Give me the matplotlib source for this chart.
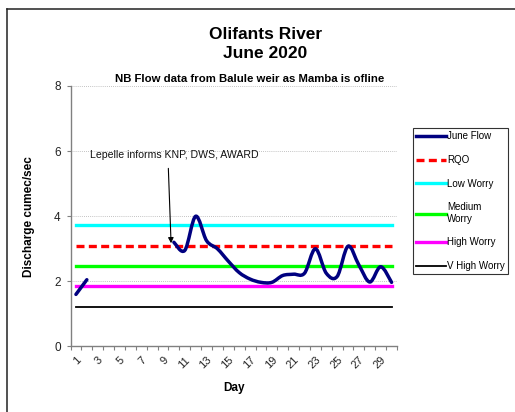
import numpy as np
import matplotlib
matplotlib.use("Agg")
import matplotlib.pyplot as plt
from matplotlib.path import Path
from matplotlib.patches import PathPatch
from matplotlib.lines import Line2D

plt.rcParams['font.family'] = ['Liberation Sans', 'DejaVu Sans']

# ---------------- data ----------------
days = list(range(1, 31))
june_flow = [1.6, 2.05, np.nan, np.nan, np.nan, np.nan, np.nan, np.nan, np.nan,
             3.2, 2.95, 4.0, 3.25, 3.0, 2.62, 2.27, 2.07, 1.97, 1.97, 2.18,
             2.22, 2.25, 3.0, 2.25, 2.15, 3.08, 2.5, 1.98, 2.45, 1.97]
rqo = 3.1
low_worry = 3.73
medium_worry = 2.47
high_worry = 1.85
v_high_worry = 1.22
x_tick_labels = [str(d) for d in days[::2]]
y_ticks = [0, 2, 4, 6, 8]
annotation_text = "Lepelle informs KNP, DWS, AWARD"

# ---------------- figure ----------------
fig = plt.figure(figsize=(5.15, 4.12), dpi=100)
ax = fig.add_axes([0.1369, 0.159, 0.634, 0.6323])

# outer chart frame (left & top edges visible)
fig.add_artist(Line2D([7/515, 7/515], [0, 1 - 9/412], transform=fig.transFigure,
                      color='#222222', lw=1.1))
fig.add_artist(Line2D([7/515, 1], [1 - 9/412, 1 - 9/412], transform=fig.transFigure,
                      color='#222222', lw=1.1))

# gridlines
for yv in y_ticks[1:]:
    ax.axhline(yv, color='#b0b0b0', lw=0.6, ls=(0, (1, 1.5)), zorder=0)

# threshold lines
x0, x1 = days[0], days[-1]
ax.plot([x0, x1], [v_high_worry, v_high_worry], color='black', lw=1.3, zorder=2)
ax.plot([x0, x1], [high_worry, high_worry], color='#FF00FF', lw=2.4, zorder=2)
ax.plot([x0, x1], [medium_worry, medium_worry], color='#00FF00', lw=2.4, zorder=2)
ax.plot([x0, x1], [low_worry, low_worry], color='#00FFFF', lw=2.4, zorder=2)
ax.plot([x0, x1], [rqo, rqo], color='#FF0000', lw=2.4, ls=(0, (2.4, 1.3)), zorder=2)


# smoothed flow line (Bezier through data points, like Excel's smoothed line)
def smooth_path(xs, ys):
    verts, codes = [], []
    segs, cur = [], []
    for x, y in zip(xs, ys):
        if np.isnan(y):
            if cur:
                segs.append(cur)
            cur = []
        else:
            cur.append((x, y))
    if cur:
        segs.append(cur)
    for seg in segs:
        pts = np.array(seg, dtype=float)
        n = len(pts)
        verts.append(pts[0]); codes.append(Path.MOVETO)
        if n == 2:
            verts.append(pts[1]); codes.append(Path.LINETO)
            continue
        for i in range(n - 1):
            p0 = pts[max(i - 1, 0)]
            p1 = pts[i]
            p2 = pts[i + 1]
            p3 = pts[min(i + 2, n - 1)]
            c1 = p1 + (p2 - p0) / 6.0
            c2 = p2 - (p3 - p1) / 6.0
            verts += [c1, c2, p2]
            codes += [Path.CURVE4] * 3
    return Path(verts, codes)


flow_patch = PathPatch(smooth_path(days, june_flow), fill=False, edgecolor='#000080',
                       lw=2.5, capstyle='round', joinstyle='round', zorder=3)
ax.add_patch(flow_patch)

# annotation
ax.annotate('', xy=(9.74, 3.17), xytext=(9.49, 5.47),
            arrowprops=dict(arrowstyle='-|>', color='black', lw=0.8,
                            mutation_scale=8, shrinkA=0, shrinkB=0), zorder=4)
ax.text(2.29, 5.78, annotation_text, fontsize=7.6, ha='left', va='baseline', color='#111111')

# axes formatting
ax.set_xlim(0.5, 30.5)
ax.set_ylim(0, 8)
for s in ['top', 'right']:
    ax.spines[s].set_visible(False)
for s in ['left', 'bottom']:
    ax.spines[s].set_color('#808080')
    ax.spines[s].set_linewidth(1.0)

ax.set_yticks(y_ticks)
ax.set_yticklabels([str(v) for v in y_ticks])
ax.tick_params(axis='y', direction='out', length=3, color='#808080', labelsize=8.5,
               labelcolor='#222222', pad=4)

ax.set_xticks(np.arange(0.5, 31, 1.0))
ax.set_xticklabels([])
ax.tick_params(axis='x', which='major', direction='out', length=3, color='#808080')
ax.set_xticks(days[::2], minor=True)
ax.set_xticklabels(x_tick_labels, minor=True, rotation=45, ha='right',
                   rotation_mode='anchor', fontsize=8, color='#222222')
ax.tick_params(axis='x', which='minor', length=0, pad=6)

ax.set_xlabel('Day', fontsize=8.5, fontweight='bold', labelpad=8)
ax.set_ylabel('Discharge cumec/sec', fontsize=8.5, fontweight='bold', labelpad=14)

# titles
fig.text(0.515, 1 - 39/412, 'Olifants River', ha='center', va='baseline',
         fontsize=12.5, fontweight='bold')
fig.text(0.515, 1 - 58/412, 'June 2020', ha='center', va='baseline',
         fontsize=12.5, fontweight='bold')
fig.text(0.4854, 1 - 82/412, 'NB Flow data from Balule weir as Mamba is ofline',
         ha='center', va='baseline', fontsize=8.2, fontweight='bold')

# legend
handles = [
    Line2D([], [], color='#000080', lw=2.5),
    Line2D([], [], color='#FF0000', lw=2.4, ls=(0, (2.4, 1.3))),
    Line2D([], [], color='#00FFFF', lw=2.4),
    Line2D([], [], color='#00FF00', lw=2.4),
    Line2D([], [], color='#FF00FF', lw=2.4),
    Line2D([], [], color='black', lw=1.3),
]
labels = ['June Flow', 'RQO', 'Low Worry', 'Medium\nWorry', 'High Worry', 'V High Worry']
leg = fig.legend(handles, labels, loc='upper left', bbox_to_anchor=(413/515, 1 - 128/412),
                 bbox_transform=fig.transFigure, fontsize=7, frameon=True, fancybox=False,
                 edgecolor='black', borderaxespad=0, handlelength=3.0, handletextpad=0.15,
                 labelspacing=1.4, borderpad=0.35)
leg.get_frame().set_linewidth(0.8)

fig.savefig('out.png', dpi=100)
